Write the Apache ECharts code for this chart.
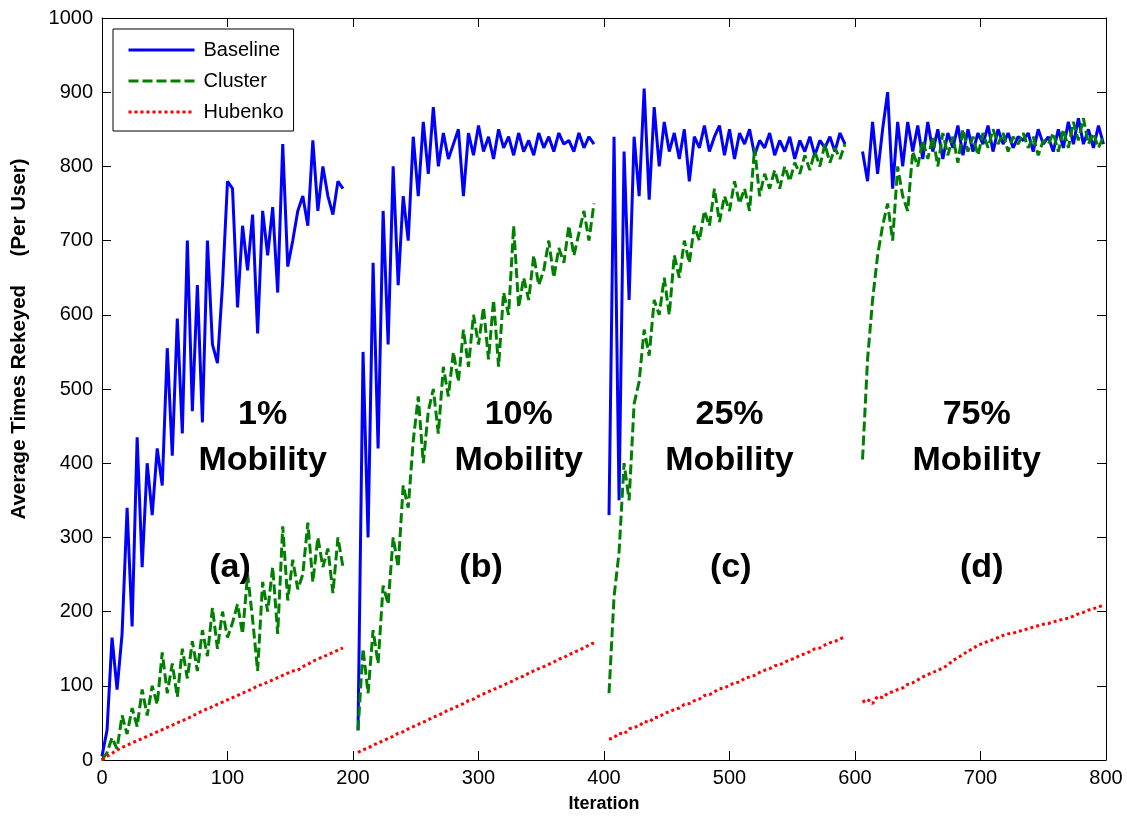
<!DOCTYPE html>
<html>
<head>
<meta charset="utf-8">
<title>Average Times Rekeyed</title>
<script src="https://cdn.jsdelivr.net/npm/echarts@6/dist/echarts.min.js"></script>
<style>
  html, body { margin: 0; padding: 0; background: #fff; }
  #chart { width: 1127px; height: 819px; }
</style>
</head>
<body>
<div id="chart"></div>
<script>
// iterations of each run (4 runs side by side on one axis)
const iterA = [0, 4, 8, 12, 16, 20, 24, 28, 32, 36, 40, 44, 48, 52, 56, 60, 64, 68, 72, 76, 80, 84, 88, 92, 96, 100, 104, 108, 112, 116, 120, 124, 128, 132, 136, 140, 144, 148, 152, 156, 160, 164, 168, 172, 176, 180, 184, 188, 192];
const iterB = [204, 208, 212, 216, 220, 224, 228, 232, 236, 240, 244, 248, 252, 256, 260, 264, 268, 272, 276, 280, 284, 288, 292, 296, 300, 304, 308, 312, 316, 320, 324, 328, 332, 336, 340, 344, 348, 352, 356, 360, 364, 368, 372, 376, 380, 384, 388, 392];
const iterC = [404, 408, 412, 416, 420, 424, 428, 432, 436, 440, 444, 448, 452, 456, 460, 464, 468, 472, 476, 480, 484, 488, 492, 496, 500, 504, 508, 512, 516, 520, 524, 528, 532, 536, 540, 544, 548, 552, 556, 560, 564, 568, 572, 576, 580, 584, 588, 592];
const iterD = [606, 610, 614, 618, 622, 626, 630, 634, 638, 642, 646, 650, 654, 658, 662, 666, 670, 674, 678, 682, 686, 690, 694, 698, 702, 706, 710, 714, 718, 722, 726, 730, 734, 738, 742, 746, 750, 754, 758, 762, 766, 770, 774, 778, 782, 786, 790, 794, 798];

// (a) 1% mobility
const baselineA = [5, 40, 165, 95, 170, 340, 180, 435, 260, 400, 330, 420, 370, 555, 410, 595, 440, 700, 470, 640, 455, 700, 560, 535, 640, 780, 770, 610, 720, 660, 735, 575, 740, 680, 745, 630, 830, 665, 700, 740, 760, 720, 835, 740, 800, 760, 735, 780, 770];
const clusterA = [0, 10, 30, 15, 60, 35, 70, 45, 95, 60, 100, 75, 145, 90, 130, 85, 150, 110, 160, 120, 175, 140, 205, 150, 200, 165, 185, 210, 170, 250, 190, 120, 240, 200, 260, 170, 315, 215, 270, 230, 250, 320, 240, 300, 260, 285, 225, 300, 260];
const hubenkoA = [0, 5, 9, 13, 17, 20, 23, 26, 29, 32, 35, 38, 41, 44, 47, 50, 53, 56, 59, 63, 66, 69, 72, 75, 78, 81, 84, 87, 90, 93, 96, 100, 102, 105, 108, 111, 114, 117, 120, 121, 126, 129, 133, 136, 139, 142, 145, 148, 151];

// (b) 10% mobility
const baselineB = [40, 550, 300, 670, 420, 740, 560, 800, 640, 760, 700, 840, 760, 860, 790, 880, 800, 845, 810, 830, 850, 760, 845, 815, 855, 820, 840, 810, 850, 825, 840, 815, 845, 820, 835, 815, 845, 825, 840, 820, 845, 830, 835, 820, 845, 825, 840, 830];
const clusterB = [40, 150, 90, 175, 130, 235, 210, 300, 260, 370, 340, 430, 490, 400, 470, 500, 440, 530, 490, 550, 510, 580, 530, 600, 560, 610, 540, 620, 530, 630, 600, 720, 610, 650, 620, 680, 640, 660, 700, 650, 690, 670, 720, 680, 710, 740, 700, 750];
const hubenkoB = [10, 14, 16, 20, 23, 26, 29, 32, 36, 38, 42, 45, 48, 51, 54, 58, 60, 64, 67, 70, 73, 76, 80, 82, 86, 89, 92, 95, 98, 101, 104, 107, 111, 113, 117, 120, 123, 126, 129, 132, 136, 138, 142, 145, 148, 151, 155, 158];

// (c) 25% mobility
const baselineC = [330, 840, 350, 820, 620, 840, 760, 905, 755, 880, 800, 860, 820, 845, 810, 850, 780, 840, 825, 855, 820, 840, 855, 815, 850, 810, 845, 830, 850, 815, 835, 825, 845, 815, 835, 820, 840, 810, 835, 820, 840, 815, 835, 825, 840, 820, 845, 830];
const clusterC = [90, 220, 280, 400, 350, 480, 510, 580, 545, 620, 600, 650, 600, 680, 650, 700, 670, 720, 700, 740, 720, 770, 725, 760, 740, 780, 750, 770, 740, 825, 760, 790, 770, 795, 770, 800, 780, 805, 790, 815, 795, 820, 800, 830, 805, 825, 810, 830];
const hubenkoC = [28, 30, 36, 35, 42, 44, 46, 52, 51, 57, 58, 63, 65, 68, 70, 75, 76, 80, 82, 87, 88, 92, 96, 97, 101, 104, 105, 110, 112, 114, 118, 121, 123, 127, 128, 132, 135, 137, 141, 143, 146, 150, 151, 155, 158, 160, 163, 166];

// (d) 75% mobility
const baselineD = [820, 780, 860, 790, 850, 900, 770, 860, 800, 860, 820, 855, 810, 860, 820, 850, 810, 845, 825, 855, 815, 850, 820, 845, 830, 855, 820, 850, 830, 845, 825, 840, 835, 845, 820, 850, 830, 840, 820, 850, 825, 860, 830, 865, 830, 850, 825, 855, 830];
const clusterD = [405, 540, 620, 680, 720, 750, 700, 800, 760, 740, 820, 800, 835, 810, 840, 800, 845, 815, 840, 805, 850, 820, 840, 815, 845, 825, 850, 830, 845, 820, 840, 830, 845, 825, 840, 815, 835, 830, 845, 820, 850, 825, 860, 835, 865, 830, 845, 825, 840];
const hubenkoD = [78, 82, 76, 86, 84, 90, 92, 95, 97, 102, 104, 108, 112, 115, 118, 121, 124, 128, 134, 138, 142, 147, 150, 155, 157, 160, 162, 165, 168, 170, 171, 173, 175, 177, 179, 181, 183, 184, 186, 188, 190, 191, 194, 197, 199, 202, 204, 206, 209];

// text placed inside the plot, in data coordinates
const noteIter = [128, 332, 500, 697, 102, 302, 501, 701];
const noteValue = [434, 434, 434, 434, 259, 259, 259, 259];
const noteText = ["1%\nMobility", "10%\nMobility", "25%\nMobility", "75%\nMobility", "(a)", "(b)", "(c)", "(d)"];

const FONT = "Arial, 'Liberation Sans', sans-serif";

const runs = [
  { iter: iterA, Baseline: baselineA, Cluster: clusterA, Hubenko: hubenkoA },
  { iter: iterB, Baseline: baselineB, Cluster: clusterB, Hubenko: hubenkoB },
  { iter: iterC, Baseline: baselineC, Cluster: clusterC, Hubenko: hubenkoC },
  { iter: iterD, Baseline: baselineD, Cluster: clusterD, Hubenko: hubenkoD },
];

const lineStyles = {
  Baseline: { color: "#0000ff", width: 3, type: "solid" },
  Cluster: { color: "#008000", width: 3, type: [10, 4] },
  Hubenko: { color: "#ff0000", width: 3, type: [3, 3] },
};

const series = [];
["Baseline", "Cluster", "Hubenko"].forEach((name) => {
  runs.forEach((run) => {
    series.push({
      name: name,
      type: "line",
      symbol: "none",
      showSymbol: false,
      animation: false,
      data: run.iter.map((x, i) => [x, run[name][i]]),
      itemStyle: { color: lineStyles[name].color },
      lineStyle: lineStyles[name],
    });
  });
});

// the "x% Mobility" and "(a)".."(d)" captions
series.push({
  name: "notes",
  type: "scatter",
  symbolSize: 1,
  itemStyle: { color: "rgba(0,0,0,0)", opacity: 1 },
  z: 5,
  silent: true,
  animation: false,
  data: noteIter.map((x, i) => [x, noteValue[i]]),
  label: {
    show: true,
    position: "inside",
    formatter: (p) => noteText[p.dataIndex],
    fontFamily: FONT,
    fontWeight: "bold",
    fontSize: 34,
    lineHeight: 46,
    color: "#000",
    opacity: 1,
    align: "center",
    verticalAlign: "middle",
  },
});

const axisCommon = {
  type: "value",
  axisLine: { show: true, onZero: false, lineStyle: { color: "#000", width: 1 } },
  axisTick: { show: true, inside: true, length: 9, lineStyle: { color: "#000", width: 1 } },
  splitLine: { show: false },
};

const chart = echarts.init(document.getElementById("chart"));
chart.setOption({
  backgroundColor: "#fff",
  animation: false,
  grid: { left: 102, right: 21, top: 18, bottom: 59, containLabel: false, outerBoundsMode: "none" },
  legend: {
    data: ["Baseline", "Cluster", "Hubenko"],
    orient: "vertical",
    left: 113,
    top: 29,
    selectedMode: false,
    backgroundColor: "#fff",
    borderColor: "#000",
    borderWidth: 1,
    borderRadius: 0,
    padding: [11, 10, 9, 14],
    itemWidth: 66,
    itemHeight: 20,
    itemGap: 11,
    // hide the round marker that line legends draw, keep the line
    itemStyle: { color: "rgba(0,0,0,0)", borderWidth: 0, opacity: 0 },
    lineStyle: { width: 3 },
    textStyle: { fontSize: 20, fontFamily: FONT, color: "#000", padding: [0, 0, 0, 4] },
  },
  xAxis: [
    Object.assign({}, axisCommon, {
      min: 0, max: 800, interval: 100,
      position: "bottom",
      name: "Iteration",
      nameLocation: "middle",
      nameGap: 35,
      nameTextStyle: { fontFamily: FONT, fontWeight: "bold", fontSize: 18, color: "#000" },
      axisLabel: { fontFamily: FONT, fontSize: 20, color: "#000", margin: 8, showMinLabel: true, showMaxLabel: true, formatter: (v) => String(v) },
    }),
    Object.assign({}, axisCommon, {
      min: 0, max: 800, interval: 100,
      position: "top",
      axisLabel: { show: false },
    }),
  ],
  yAxis: [
    Object.assign({}, axisCommon, {
      min: 0, max: 1000, interval: 100,
      position: "left",
      name: "Average Times Rekeyed     (Per User)",
      nameLocation: "middle",
      nameGap: 72,
      // the title sits a bit above the middle of the axis
      nameTextStyle: { fontFamily: FONT, fontWeight: "bold", fontSize: 20.5, color: "#000", padding: [0, 0, 0, 100] },
      axisLabel: { fontFamily: FONT, fontSize: 20, color: "#000", margin: 9, showMinLabel: true, showMaxLabel: true, formatter: (v) => String(v) },
    }),
    Object.assign({}, axisCommon, {
      min: 0, max: 1000, interval: 100,
      position: "right",
      axisLabel: { show: false },
    }),
  ],
  series: series,
});
</script>
</body>
</html>
